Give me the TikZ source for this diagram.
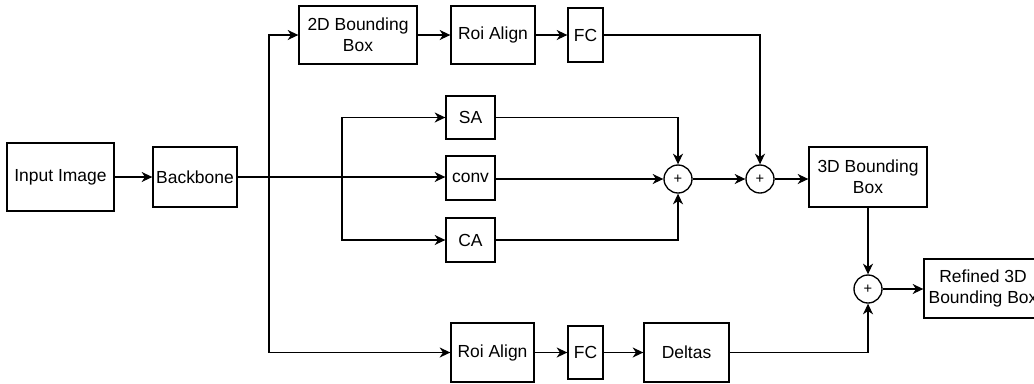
\documentclass[tikz,border=0pt]{standalone}
\usepackage{fontspec}
\setmainfont{Liberation Sans}
\usetikzlibrary{arrows.meta}

\tikzset{
  blk/.style={draw, line width=1pt, inner sep=0pt, align=center,
    font=\fontsize{13.1}{15.5}\selectfont},
  sumnode/.style={draw, circle, line width=1pt, inner sep=0pt, minimum size=21pt,
    font=\fontsize{11}{11}\selectfont},
  flow/.style={line width=1pt, -{Stealth[length=8pt,width=7.5pt,inset=2.5pt]}},
  wire/.style={line width=1pt}
}

\begin{document}
\begin{tikzpicture}[x=0.75pt, y=-0.75pt]
        % 1 unit = 1 pixel of the 1034 x 383 frame
        \useasboundingbox (0,0) rectangle (1034,383);

        % Entree
        \node[blk, minimum width=80.25pt, minimum height=51pt] (input) at (60.5,177) {Input Image};
        \node[blk, minimum width=63pt, minimum height=45pt] (backbone) at (195,177) {Backbone};

        % Branche du haut
        \node[blk, minimum width=88.5pt, minimum height=43.5pt] (box2d) at (358,35) {2D Bounding\\Box};
        \node[blk, minimum width=63pt, minimum height=43.5pt] (roitop) at (493,35) {Roi Align};
        \node[blk, minimum width=26.25pt, minimum height=40.5pt] (fctop) at (585.5,35) {FC};

        % Branche du milieu
        \node[blk, minimum width=36.75pt, minimum height=32.25pt] (sa) at (470.5,117.5) {SA};
        \node[blk, minimum width=36.75pt, minimum height=33pt] (conv) at (470.5,178) {conv};
        \node[blk, minimum width=36.75pt, minimum height=33pt] (ca) at (470.5,240) {CA};

        % Sommes
        \node[sumnode] (sum1) at (678,179) {+};
        \node[sumnode] (sum2) at (760,179) {+};
        \node[sumnode] (sum3) at (868,289) {+};

        \node[blk, minimum width=88.5pt, minimum height=45pt] (box3d) at (868,177) {3D Bounding\\Box};
        \node[blk, minimum width=88.5pt, minimum height=44.25pt] (refined) at (983,288.5) {Refined 3D\\Bounding Box};

        % Branche du bas
        \node[blk, minimum width=62.25pt, minimum height=44.25pt] (roibot) at (492.5,352.5) {Roi Align};
        \node[blk, minimum width=26.25pt, minimum height=39.75pt] (fcbot) at (585.5,352.5) {FC};
        \node[blk, minimum width=63.75pt, minimum height=44.25pt] (deltas) at (686.5,352.5) {Deltas};

        % Points de separation
        \coordinate (splitA) at (269,177);
        \coordinate (splitB) at (342,177);

        \draw[flow] (input) -- (backbone);

        \draw[flow] (backbone.east) -- (splitA) |- (box2d.west);
        \draw[flow] (backbone.east) -- (splitA) |- (roibot.west);
        \draw[flow] (backbone.east) -- (splitB) |- (sa.west);
        \draw[flow] (backbone.east) -- (backbone.east -| conv.west);
        \draw[flow] (backbone.east) -- (splitB) |- (ca.west);

        \draw[flow] (box2d) -- (roitop);
        \draw[flow] (roitop) -- (fctop);
        \draw[flow] (fctop.east) -| (sum2.north);

        \draw[flow] (sa.east) -| (sum1.north);
        \draw[flow] (conv.east |- sum1) -- (sum1.west);
        \draw[flow] (ca.east) -| (sum1.south);

        \draw[flow] (sum1) -- (sum2);
        \draw[flow] (sum2.east) -- (sum2.east -| box3d.west);
        \draw[flow] (box3d) -- (sum3);
        \draw[flow] (sum3.east) -- (sum3.east -| refined.west);

        \draw[flow] (roibot) -- (fcbot);
        \draw[flow] (fcbot) -- (deltas);
        \draw[flow] (deltas.east) -| (sum3.south);
    \end{tikzpicture}
\end{document}
